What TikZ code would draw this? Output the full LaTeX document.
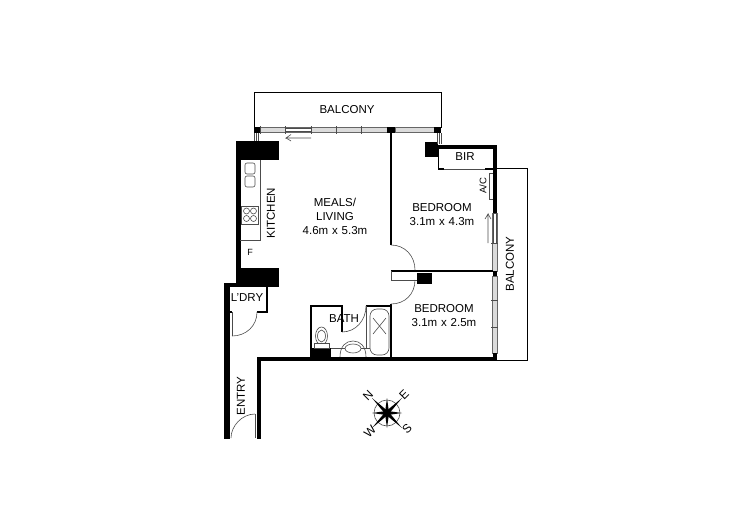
\documentclass[tikz,border=0pt]{standalone}
\usepackage{fontspec}
\setmainfont{Liberation Sans}
\tikzset{
    wall/.style = {fill = black,draw = none},
    partition/.style = {draw = black,line width = 1.4pt},
    outline/.style = {draw = black,line width = 1pt},
    fitting/.style = {draw = black!70,line width = 0.6pt},
    glazing/.style = {draw = black!60,fill = black!14,line width = 0.6pt},
    label/.style = {font = \fontsize{11.5}{14}\selectfont,align = center,inner sep = 0pt},
    compass/.style = {font = \fontsize{12}{12}\selectfont,rotate = 45,inner sep = 0pt}
}
\begin{document}
\begin{tikzpicture}[x = 1pt,y = -1pt]
    \useasboundingbox (0,0) rectangle (750,530);
    % balconies
    \draw[outline] (254,128) -- (254,92) -- (441,92) -- (441,128);
    \draw[outline] (497,168) -- (527,168) -- (527,360) -- (497,360);
    % windows, north side
    \draw[glazing] (258,127.5) rectangle (387,132.5);
    \draw[glazing] (395,127.5) rectangle (435,132.5);
    \draw[fitting,fill = white] (285,128.5) rectangle (311,131.5);
    \foreach \tickx in {260,285,311,336,361}
        \draw[fitting] (\tickx,126) -- (\tickx,134);
    % windows, east side
    \draw[glazing] (492.5,213) rectangle (497,271);
    \draw[glazing] (492.5,276) rectangle (497,353);
    \draw[fitting,fill = white] (493.5,213) rectangle (496,243);
    \foreach \ticky in {243,300,327}
        \draw[fitting] (491,\ticky) -- (498,\ticky);
    % sliding arrows
    \draw[fitting] (311,138) -- (286,138) -- (291,134.5);
    \draw[fitting] (286,138) -- (291,141);
    \draw[fitting] (488,243) -- (488,214) -- (485,219);
    \draw[fitting] (488,214) -- (491,219);
    % solid walls
    \fill[wall] (236,141) rectangle (279,160);
    \fill[wall] (236,160) rectangle (240.5,268);
    \fill[wall] (236,268) rectangle (279,287);
    \fill[wall] (224,283) rectangle (236,287);
    \fill[wall] (224,283) rectangle (229.5,439);
    \fill[wall] (257,357) rectangle (261,439);
    \fill[wall] (257,357) rectangle (497,361);
    \fill[wall] (438,145) rectangle (497,149);
    \fill[wall] (493,145) rectangle (497,213);
    \fill[wall] (425,142) rectangle (438,157);
    \fill[wall] (253.5,127) rectangle (260,133);
    \fill[wall] (387,127) rectangle (395,132.5);
    \fill[wall] (434,127) rectangle (441,133);
    \fill[wall] (493,271) rectangle (497,276);
    \fill[wall] (493,353) rectangle (497,361);
    \fill[wall] (417,273) rectangle (432,284);
    \fill[wall] (310,348) rectangle (331,357);
    % wall stubs at the window ends
    \foreach \stubx in {254,256,258}
        \draw[fitting] (\stubx,133) -- (\stubx,141);
    \foreach \stubx in {437,439,441}
        \draw[fitting] (\stubx,133) -- (\stubx,144);
    % partitions
    \draw[partition] (391,132) -- (391,245);
    \draw[partition] (391,304) -- (391,357);
    \draw[partition] (391,271) -- (493,271);
    \draw[fitting,line width = 1pt] (391,271) -- (391,280) -- (417,280);
    \draw[partition] (438.5,149) -- (438.5,169);
    \draw[partition] (438,169) -- (444,169);
    \draw[partition] (485,169) -- (493,169);
    \draw[fitting] (444,169) -- (485,169);
    \draw[fitting] (489,173) -- (489,199) -- (493,199);
    \draw[fitting] (489,173) -- (493,173);
    \draw[partition] (267,287) -- (267,312) -- (257,312);
    \draw[partition] (229,312) -- (232,312);
    \draw[partition] (311,357) -- (311,306) -- (342,306) -- (342,332);
    \draw[partition] (366,306) -- (391,306);
    \draw[fitting,line width = 1pt] (366,306) -- (366,348);
    % door swings
    \draw[fitting] (391,245) .. controls (405,245) and (415,256) .. (415,270);
    \draw[fitting] (415,280) .. controls (415,294) and (405,304) .. (391,304);
    \draw[fitting] (342,332) .. controls (356,332) and (366,320) .. (366,306);
    \draw[fitting] (232,336) .. controls (246,336) and (257,326) .. (257,312);
    \draw[fitting] (232,312) -- (232,336);
    \draw[fitting] (231,438) .. controls (231,426) and (242,414) .. (255,414);
    \draw[fitting] (255,414) -- (255,438);
    % kitchen
    \draw[fitting] (260,160) -- (260,240) -- (240,240);
    \draw[fitting,rounded corners = 2pt] (245,163) rectangle (255,174);
    \draw[fitting,rounded corners = 2pt] (245,176) rectangle (255,187);
    \draw[fitting] (241.5,206) rectangle (258.5,224);
    \foreach \hobx in {246.5,253.5}
        \foreach \hoby in {211,218.5}
            \draw[fitting] (\hobx,\hoby) circle [radius = 3pt];
    % bathroom
    \draw[fitting,rounded corners = 7pt] (370,309) rectangle (389,355);
    \draw[fitting] (373,318) -- (386,334);
    \draw[fitting] (386,318) -- (373,334);
    \draw[fitting] (321.5,336) ellipse [x radius = 6pt,y radius = 9pt];
    \draw[fitting] (321.5,336) ellipse [x radius = 4pt,y radius = 6pt];
    \draw[fitting,fill = white] (314,343) rectangle (329,348);
    \draw[fitting] (331,348) -- (366,348) (366,348) -- (370,348);
    \draw[fitting] (340,357) .. controls (340,346) and (346,341) .. (353,341) .. controls (360,341) and (366,346) .. (366,357);
    \draw[fitting,fill = white] (353,348.5) ellipse [x radius = 8pt,y radius = 4.5pt];
    % compass rose
    \draw[fitting] (387,413) circle [radius = 13pt];
    \foreach \pointa/\pointr in {45/21,135/21,225/21,315/21,0/15,90/15,180/15,270/15}
        \fill[black,shift = {(387,413)}] (\pointa+45:2.6pt) -- (\pointa:\pointr pt) -- (\pointa-45:2.6pt) -- (0,0) -- cycle;
    % labels
    \node[label] (balconyn) at (347,110) {BALCONY};
    \node[label] (balconye) at (510,264) [rotate = 90] {BALCONY};
    \node[label] (kitchen) at (271,213) [rotate = 90] {KITCHEN};
    \node[label] (fridge) at (250,252) {\fontsize{9}{9}\selectfont F};
    \node[label,text width = 80pt] (living) at (335,216) {MEALS/\\LIVING\\4.6m x 5.3m};
    \node[label] (bir) at (465,157) {BIR};
    \node[label] (ac) at (483,186) [rotate = 90] {\fontsize{9.5}{9.5}\selectfont A/C};
    \node[label,text width = 80pt] (bedroomn) at (442,215) {BEDROOM\\3.1m x 4.3m};
    \node[label,text width = 80pt] (bedrooms) at (444,316) {BEDROOM\\3.1m x 2.5m};
    \node[label] (bath) at (344,319) {BATH};
    \node[label] (laundry) at (247,298) {L'DRY};
    \node[label] (entry) at (241,396) [rotate = 90] {ENTRY};
    \node[compass] (north) at (368,396) {N};
    \node[compass] (east) at (404,395) {E};
    \node[compass] (west) at (370,432) {W};
    \node[compass] (south) at (407,429) {S};
\end{tikzpicture}
\end{document}
